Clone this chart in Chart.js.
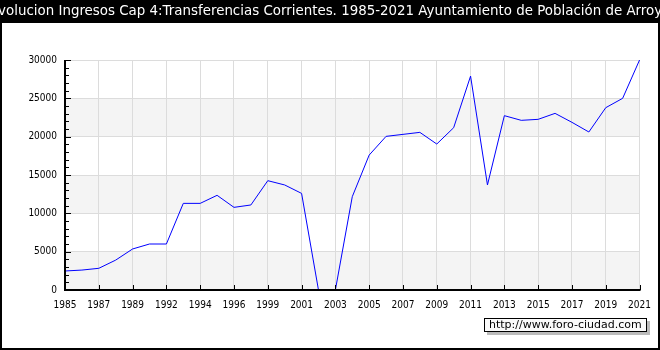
<!DOCTYPE html>
<html>
<head>
<meta charset="utf-8">
<script src="https://cdn.jsdelivr.net/npm/chart.js@4"></script>
<style>
  html, body { margin: 0; padding: 0; background: #000; }
  #wrap { width: 660px; height: 350px; }
</style>
</head>
<body>
<div id="wrap"><canvas id="chart" width="660" height="350"></canvas></div>
<script>
// datos
const years = ['1985','1986','1987','1988','1989','1990','1992','1993','1994','1995','1996','1997','1999','2000','2001','2002',
  '2003','2004','2005','2006','2007','2008','2009','2010','2011','2012','2013','2014','2015','2016','2017','2018','2019','2020','2021'];
const ingresos = [2480, 2600, 2830, 3900, 5350, 6000, 6000, 11300, 11300, 12350, 10780, 11090, 14260, 13700, 12600, 0,
  0, 12170, 17600, 20040, 20300, 20560, 19040, 21170, 27900, 13700, 22740, 22130, 22260, 23040, 21870, 20610, 23780, 25000, 30000];
const yTicks = [0, 5000, 10000, 15000, 20000, 25000, 30000];

const titleText = 'Evolucion Ingresos Cap 4:Transferencias Corrientes. 1985-2021 Ayuntamiento de Población de Arroyo';
const footerText = 'http://www.foro-ciudad.com';
const tickFamily = '"DejaVu Sans Condensed", "DejaVu Sans", sans-serif';

// fondo negro, panel blanco y bandas grises
const backPlugin = {
  id: 'back',
  beforeDraw(chart) {
    const c = chart.ctx, a = chart.chartArea, y = chart.scales.y;
    c.save();
    c.fillStyle = '#000';
    c.fillRect(0, 0, chart.width, chart.height);
    c.fillStyle = '#fff';
    c.fillRect(2, 23, chart.width - 4, chart.height - 25);
    c.fillStyle = '#f4f4f4';
    for (let i = 0; i < yTicks.length - 1; i += 2) {
      const top = y.getPixelForValue(yTicks[i + 1]);
      const bot = y.getPixelForValue(yTicks[i]);
      c.fillRect(a.left, top, a.right - a.left, bot - top);
    }
    c.restore();
  }
};

// ejes, marcas, titulo y caja de la web
const frontPlugin = {
  id: 'front',
  afterDraw(chart) {
    const c = chart.ctx, a = chart.chartArea, x = chart.scales.x, y = chart.scales.y;
    c.save();
    c.fillStyle = '#000';
    // ejes (tapan la linea cuando vale 0)
    c.fillRect(a.left - 1, a.top, 2, a.bottom - a.top + 1);
    c.fillRect(a.left - 1, a.bottom - 1, a.right - a.left + 2, 2);
    c.strokeStyle = '#000';
    c.lineWidth = 1;
    c.beginPath();
    // marcas eje y (cada 1000)
    for (let v = 1000; v <= 30000; v += 1000) {
      const py = Math.round(y.getPixelForValue(v)) + 0.5;
      const len = v % 5000 === 0 ? 6 : 4;
      c.moveTo(a.left, py);
      c.lineTo(a.left + len, py);
    }
    // marcas eje x
    for (let i = 2; i < years.length; i += 2) {
      const px = Math.round(x.getPixelForValue(i)) + 0.5;
      c.moveTo(px, a.bottom);
      c.lineTo(px, a.bottom - 5);
    }
    c.stroke();

    // titulo
    c.fillStyle = '#fff';
    c.font = '13.4px "DejaVu Sans", sans-serif';
    c.textAlign = 'center';
    c.textBaseline = 'middle';
    c.fillText(titleText, chart.width / 2, 12);

    // caja foro-ciudad
    c.fillStyle = '#bbb';
    c.fillRect(487, 321, 163, 14);
    c.fillStyle = '#fafafa';
    c.fillRect(484, 318, 163, 14);
    c.strokeStyle = '#000';
    c.strokeRect(484.5, 318.5, 162, 13);
    c.fillStyle = '#000';
    c.font = '11px "DejaVu Sans", sans-serif';
    c.textAlign = 'left';
    c.fillText(footerText, 489, 325.5);
    c.restore();
  }
};

const ctx = document.getElementById('chart').getContext('2d');
new Chart(ctx, {
  type: 'line',
  data: {
    labels: years,
    datasets: [{
      data: ingresos,
      borderColor: '#0000ff',
      borderWidth: 1,
      pointRadius: 0,
      tension: 0,
      fill: false
    }]
  },
  options: {
    responsive: false,
    animation: false,
    layout: { padding: { top: 60, right: 20, left: 0, bottom: 0 } },
    plugins: { legend: { display: false }, tooltip: { enabled: false } },
    scales: {
      x: {
        offset: false,
        border: { display: false },
        grid: {
          drawTicks: false,
          color: c => (c.index % 2 === 0 ? '#dcdcdc' : 'rgba(0,0,0,0)')
        },
        ticks: {
          autoSkip: false,
          maxRotation: 0,
          padding: 9,
          color: '#000',
          font: { family: tickFamily, size: 10 },
          callback: (v, i) => (i % 2 === 0 ? years[i] : '')
        },
        afterFit: s => { s.height = 60; }
      },
      y: {
        min: 0,
        max: 30000,
        border: { display: false },
        grid: { drawTicks: false, color: '#dcdcdc' },
        ticks: {
          stepSize: 5000,
          padding: 8,
          color: '#000',
          font: { family: tickFamily, size: 10 },
          callback: v => String(v)
        },
        afterFit: s => { s.width = 65; }
      }
    }
  },
  plugins: [backPlugin, frontPlugin]
});
</script>
</body>
</html>
